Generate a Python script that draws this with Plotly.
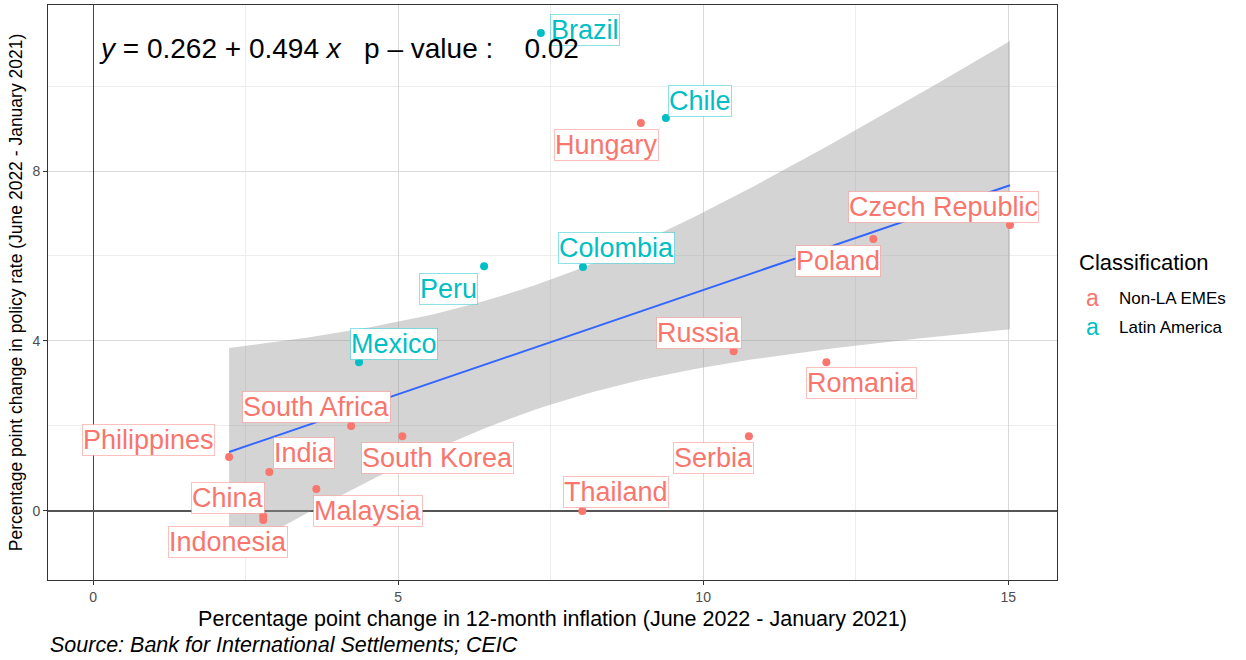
import numpy as np
import plotly.graph_objects as go

# ---------------- data ----------------
countries = ["Brazil", "Chile", "Hungary", "Czech Republic", "Poland", "Colombia",
             "Peru", "Mexico", "Russia", "Romania", "South Africa", "South Korea",
             "Philippines", "India", "Malaysia", "China", "Indonesia", "Thailand", "Serbia"]
classification = ["Latin America", "Latin America", "Non-LA EMEs", "Non-LA EMEs",
                  "Non-LA EMEs", "Latin America", "Latin America", "Latin America",
                  "Non-LA EMEs", "Non-LA EMEs", "Non-LA EMEs", "Non-LA EMEs",
                  "Non-LA EMEs", "Non-LA EMEs", "Non-LA EMEs", "Non-LA EMEs",
                  "Non-LA EMEs", "Non-LA EMEs", "Non-LA EMEs"]
inflation_change = [7.34, 9.39, 8.98, 15.03, 12.79, 8.03, 6.41, 4.36, 10.50, 12.02,
                    4.23, 5.07, 2.23, 2.89, 3.66, 2.79, 2.79, 8.02, 10.75]
policy_change = [11.25, 9.25, 9.13, 6.73, 6.40, 5.74, 5.76, 3.50, 3.76, 3.50,
                 2.00, 1.76, 1.27, 0.92, 0.52, -0.12, -0.21, 0.00, 1.76]

class_order = ["Non-LA EMEs", "Latin America"]
x_ticks = [0, 5, 10, 15]
y_ticks = [0, 4, 8]
equation_text = "<i>y</i>\u00a0=\u00a00.262\u00a0+\u00a00.494\u00a0<i>x</i>\u00a0\u00a0\u00a0p\u00a0\u2013\u00a0value\u00a0:\u00a0\u00a0\u00a0\u00a00.02"
x_title = "Percentage point change in 12-month inflation (June 2022 - January 2021)"
y_title = "Percentage point change in policy rate (June 2022 - January 2021)"
source_text = "<i>Source: Bank for International Settlements; CEIC</i>"

# ---------------- styling / layout ----------------
colors = {"Non-LA EMEs": "#F8766D", "Latin America": "#00BFC4"}
box_colors = {"Non-LA EMEs": "rgba(248,118,109,0.45)", "Latin America": "rgba(0,191,196,0.45)"}
# label offsets in pixels (dx, dy) from each point, as placed in the reference
label_offsets = {
    "Brazil": (44, -3), "Chile": (34, -17), "Hungary": (-34, 22),
    "Czech Republic": (-67, -18), "Poland": (-35, 22), "Colombia": (34, -19),
    "Peru": (-36, 23), "Mexico": (35, -18), "Russia": (-35, -18),
    "Romania": (35, 21), "South Africa": (-35, -19), "South Korea": (35, 22),
    "Philippines": (-81, -17), "India": (35, -19), "China": (-35, -18),
    "Malaysia": (52, 22), "Indonesia": (-35, 22), "Thailand": (34, -19),
    "Serbia": (-35, 22),
}
FONT = "Liberation Sans, Arial, sans-serif"

xs = np.array(inflation_change)
ys = np.array(policy_change)

# ---------------- linear fit with 95% confidence band (as geom_smooth(method='lm')) ----------------
n = len(xs)
slope, intercept = np.polyfit(xs, ys, 1)
resid = ys - (intercept + slope * xs)
s = np.sqrt(np.sum(resid ** 2) / (n - 2))
sxx = np.sum((xs - xs.mean()) ** 2)
t_crit = 2.109816  # t(0.975, df=17)
grid = np.linspace(xs.min(), xs.max(), 80)
fit = intercept + slope * grid
half = t_crit * s * np.sqrt(1.0 / n + (grid - xs.mean()) ** 2 / sxx)
lower, upper = fit - half, fit + half

fig = go.Figure()
fig.add_trace(go.Scatter(x=grid, y=lower, mode="lines", line=dict(width=0),
                         hoverinfo="skip", showlegend=False))
fig.add_trace(go.Scatter(x=grid, y=upper, mode="lines", line=dict(width=0),
                         fill="tonexty", fillcolor="rgba(153,153,153,0.42)",
                         hoverinfo="skip", showlegend=False))
fig.add_trace(go.Scatter(x=grid, y=fit, mode="lines", line=dict(color="#3366FF", width=2),
                         hoverinfo="skip", showlegend=False))

for cls in class_order:
    idx = [i for i, c in enumerate(classification) if c == cls]
    fig.add_trace(go.Scatter(
        x=[inflation_change[i] for i in idx], y=[policy_change[i] for i in idx],
        mode="markers", name=cls, marker=dict(color=colors[cls], size=8),
        text=[countries[i] for i in idx], showlegend=False))

# country labels (ggrepel-style boxed labels)
for name, cls, xv, yv in zip(countries, classification, inflation_change, policy_change):
    dx, dy = label_offsets[name]
    fig.add_annotation(x=xv, y=yv, xref="x", yref="y", text=name, showarrow=True,
                       ax=dx, ay=dy, arrowcolor="rgba(0,0,0,0)", arrowwidth=0.1,
                       font=dict(family=FONT, size=27, color=colors[cls]),
                       bgcolor="white", bordercolor=box_colors[cls], borderwidth=1,
                       borderpad=0)

# equation
fig.add_annotation(x=0.0486, y=0.925, xref="paper", yref="paper", text=equation_text,
                   showarrow=False, xanchor="left", yanchor="middle",
                   font=dict(family=FONT, size=28, color="black"))

# legend (drawn as text keys like ggplot's label legend)
fig.add_annotation(x=1.0198, y=0.553, xref="paper", yref="paper", text="Classification",
                   showarrow=False, xanchor="left", yanchor="middle",
                   font=dict(family=FONT, size=22, color="black"))
for k, cls in enumerate(class_order):
    yy = 0.490 - 0.050 * k
    fig.add_annotation(x=1.0347, y=yy, xref="paper", yref="paper", text="a",
                       showarrow=False, xanchor="center", yanchor="middle",
                       font=dict(family=FONT, size=23, color=colors[cls]))
    fig.add_annotation(x=1.0595, y=yy, xref="paper", yref="paper", text=cls,
                       showarrow=False, xanchor="left", yanchor="middle",
                       font=dict(family=FONT, size=17, color="black"))

# source note
fig.add_annotation(x=0.0, y=-0.113, xref="paper", yref="paper", text=source_text,
                   showarrow=False, xanchor="left", yanchor="middle",
                   font=dict(family=FONT, size=21.5, color="black"))

fig.update_layout(
    width=1246, height=660,
    margin=dict(l=48, r=189, t=5, b=80, autoexpand=False),
    paper_bgcolor="white", plot_bgcolor="white",
    font=dict(family=FONT),
    showlegend=False,
    xaxis=dict(range=[-0.738, 15.80], tickvals=x_ticks, ticktext=[str(v) for v in x_ticks],
               automargin=False,
               showgrid=True, gridcolor="#d9d9d9", gridwidth=1,
               minor=dict(dtick=2.5, tick0=0, showgrid=True, gridcolor="#ededed", gridwidth=1),
               zeroline=True, zerolinecolor="#444444", zerolinewidth=1,
               showline=True, mirror=True, linecolor="#333333", linewidth=1,
               ticks="outside", ticklen=4, tickcolor="#333333",
               tickfont=dict(family=FONT, size=14, color="#4d4d4d"),
               title=dict(text=x_title, font=dict(family=FONT, size=21.5, color="black"),
                          standoff=7)),
    yaxis=dict(range=[-1.624, 11.906], tickvals=y_ticks, ticktext=[str(v) for v in y_ticks],
               automargin=False,
               showgrid=True, gridcolor="#d9d9d9", gridwidth=1,
               minor=dict(dtick=2, tick0=0, showgrid=True, gridcolor="#ededed", gridwidth=1),
               zeroline=True, zerolinecolor="#555555", zerolinewidth=2,
               showline=True, mirror=True, linecolor="#333333", linewidth=1,
               ticks="outside", ticklen=4, tickcolor="#333333",
               tickfont=dict(family=FONT, size=14, color="#4d4d4d"),
               title=dict(text=y_title, font=dict(family=FONT, size=17.5, color="black"),
                          standoff=5)),
)

fig.write_html("out.html", config={"displayModeBar": False},
               post_script="document.body.style.margin='0';")
